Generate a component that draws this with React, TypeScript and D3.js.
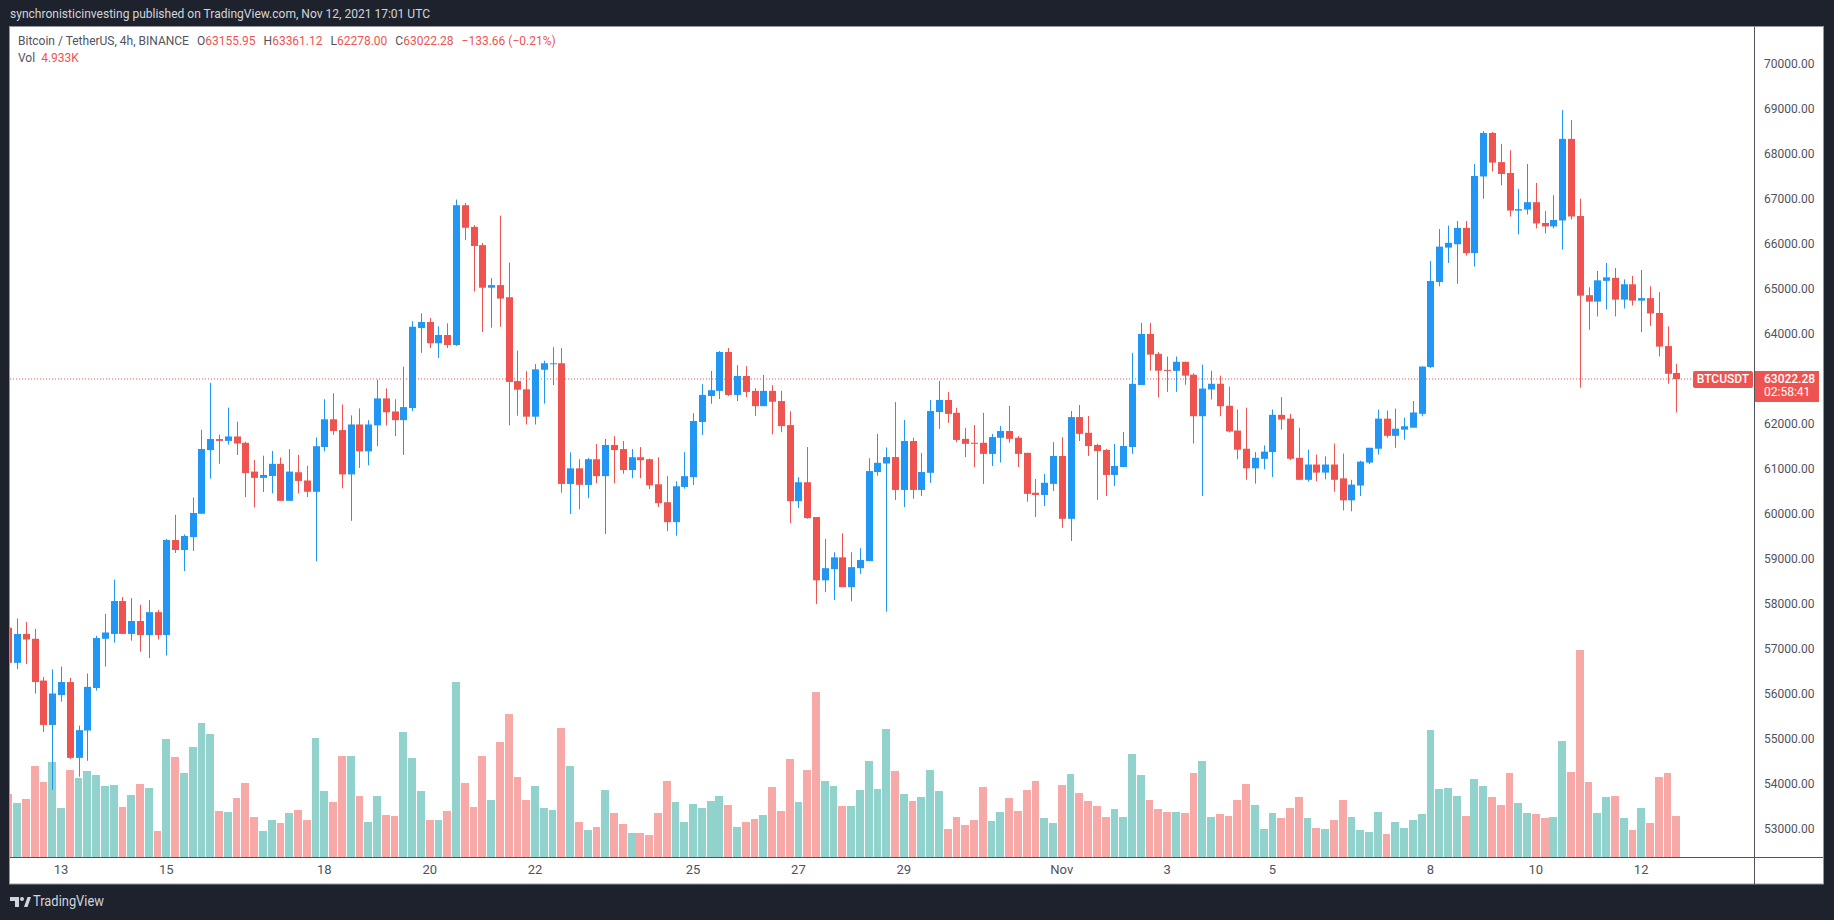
import * as d3 from "d3";
import React from "react";

// BTCUSDT 4h candles (Binance), Oct 12 2021 00:00 UTC -> Nov 12 2021 16:00 UTC
const firstCandle = new Date(Date.UTC(2021, 9, 12, 0));

const opens = [
  57496, 56715, 57357, 57250, 56321, 55335, 56000, 56288, 54603, 55211, 56156, 57250, 57357, 58088, 57357, 57644,
  57332, 57841, 57332, 59444, 59222, 59510, 60028, 61441, 61688, 61647, 61745, 61605, 60965, 60825, 60866, 61137,
  60315, 60950, 60767, 60516, 61510, 62127, 61887, 60902, 62012, 61414, 61993, 62591, 62301, 62108, 62378, 64154,
  64289, 63816, 64000, 63778, 66884, 66402, 65997, 65051, 65109, 64839, 62976, 62793, 62185, 63227, 63353, 63372,
  60690, 61037, 60668, 61239, 60863, 61555, 61465, 60999, 61284, 61239, 60683, 60284, 59841, 60623, 60841, 62066,
  62645, 62758, 63622, 62668, 63089, 62758, 62419, 62758, 62532, 61998, 60307, 60728, 59954, 58548, 58796, 59059,
  58397, 58818, 58976, 60954, 61144, 61287, 60557, 61644, 60557, 60938, 62287, 62556, 62271, 61692, 61605, 61605,
  61358, 61716, 61866, 61716, 61382, 60494, 60446, 60692, 61311, 59915, 62176, 61827, 61557, 61446, 60890, 61065,
  61509, 62890, 64024, 63580, 63224, 63203, 63405, 63118, 62195, 62789, 62916, 62428, 61876, 61473, 61037, 61249,
  61398, 62226, 62141, 61271, 60782, 61122, 60942, 61122, 60814, 60326, 60655, 61165, 61473, 62141, 61759, 61897,
  61940, 62248, 63288, 65178, 65942, 66017, 66380, 65819, 67523, 68490, 67842, 67600, 66765, 66787, 66951, 66490,
  66413, 66545, 68358, 66644, 64885, 64742, 65204, 65270, 64786, 65127, 64764, 64819, 64490, 63754, 63155.95,
];
const highs = [
  57550, 57701, 57619, 57471, 56403, 56567, 56633, 56378, 55318, 56477, 57315, 57800, 58565, 58178, 58153, 58006,
  58112, 57891, 59469, 60003, 59567, 60390, 61894, 62937, 61786, 62387, 62074, 61630, 61220, 61318, 61425, 61277,
  61466, 61336, 61095, 61722, 62571, 62707, 62456, 62214, 62369, 62108, 63005, 62813, 62571, 63295, 64308, 64482,
  64376, 64192, 64260, 67010, 66933, 66441, 66045, 65264, 66653, 65611, 63652, 63198, 63353, 63430, 63729, 63710,
  61394, 61240, 61269, 61577, 61690, 61750, 61645, 61465, 61510, 61254, 61284, 60863, 60750, 61397, 62262, 62908,
  63201, 63645, 63713, 63329, 63307, 62818, 63111, 62886, 62758, 62307, 60841, 61510, 59954, 59465, 59172, 59593,
  59172, 59262, 61262, 61803, 61501, 62509, 62112, 61716, 61382, 62556, 62977, 62731, 62382, 61938, 62001, 62271,
  61803, 61977, 62422, 61755, 61382, 60803, 60914, 61620, 61731, 62310, 62445, 62199, 61581, 61469, 61581, 61843,
  63604, 64270, 64270, 63620, 63522, 63522, 63405, 63150, 63341, 63203, 63097, 62853, 62343, 62386, 61398, 61547,
  62343, 62619, 62248, 61940, 61451, 61345, 61303, 61589, 61366, 60782, 61207, 61494, 62343, 62322, 62364, 62163,
  62534, 63299, 65645, 66356, 66431, 66534, 66534, 67798, 68534, 68512, 68248, 68105, 67248, 67798, 67380, 66754,
  67105, 68996, 68776, 67028, 65061, 65424, 65600, 65490, 65237, 65314, 65446, 65083, 64951, 64193, 63361.12,
];
const lows = [
  56680, 56576, 56691, 56033, 55178, 53896, 55852, 54578, 54184, 54537, 56099, 56633, 57168, 57357, 57209, 56962,
  56822, 57233, 56880, 59156, 58754, 59198, 60028, 60808, 61137, 61565, 61334, 60398, 60168, 60513, 60480, 60315,
  60315, 60478, 60400, 58972, 61414, 61780, 60593, 59870, 61047, 61105, 61529, 61993, 61751, 61336, 62311, 63604,
  63710, 63488, 63710, 63758, 66113, 64966, 64067, 64164, 64183, 61992, 62205, 62012, 62012, 62475, 62890, 60497,
  60024, 60130, 60375, 60705, 59578, 60705, 60916, 60818, 60818, 60578, 60179, 59638, 59540, 60585, 60668, 61780,
  62472, 62577, 62645, 62532, 62622, 62202, 62419, 61795, 61840, 59818, 60156, 59916, 58021, 58285, 58112, 58397,
  58082, 58691, 58976, 60874, 57852, 60335, 60176, 60359, 60422, 60716, 61914, 62049, 61620, 61287, 61065, 60692,
  61089, 61168, 61604, 61065, 60295, 59954, 60200, 60533, 59716, 59423, 61644, 61311, 60335, 60422, 60644, 61065,
  61358, 62890, 63207, 62612, 62736, 62736, 62895, 61589, 60421, 62566, 62195, 61834, 61239, 60782, 60698, 61016,
  60846, 61897, 61218, 60772, 60740, 60751, 60793, 60517, 60103, 60082, 60421, 61133, 61345, 61717, 61494, 61674,
  61940, 62195, 63267, 65082, 65603, 65138, 65765, 65523, 67028, 67633, 67325, 66633, 66237, 66677, 66369, 66259,
  66369, 65896, 66567, 62830, 64116, 64413, 64567, 64413, 64589, 64655, 64061, 64204, 63523, 62918, 62278.0,
];
const closes = [
  56715, 57357, 57233, 56288, 55335, 56033, 56288, 54603, 55219, 56181, 57266, 57389, 58088, 57357, 57644, 57332,
  57841, 57332, 59444, 59222, 59534, 60044, 61466, 61688, 61647, 61745, 61589, 60932, 60825, 60890, 61137, 60315,
  60965, 60757, 60516, 61529, 62127, 61867, 60902, 62012, 61414, 62012, 62591, 62282, 62108, 62398, 64183, 64289,
  63816, 64000, 63778, 66884, 66383, 65978, 65051, 65109, 64810, 62957, 62784, 62185, 63237, 63372, 63372, 60690,
  61037, 60671, 61239, 60863, 61555, 61442, 60999, 61284, 61217, 60660, 60262, 59841, 60638, 60863, 62089, 62668,
  62773, 63622, 62668, 63089, 62735, 62419, 62758, 62517, 61976, 60307, 60728, 59931, 58548, 58818, 59059, 58397,
  58841, 58999, 60976, 61160, 61287, 60557, 61644, 60557, 60954, 62310, 62556, 62247, 61668, 61581, 61581, 61358,
  61731, 61866, 61692, 61358, 60470, 60446, 60716, 61311, 59915, 62176, 61803, 61533, 61422, 60890, 61089, 61533,
  62914, 64024, 63564, 63207, 63203, 63405, 63097, 62195, 62810, 62916, 62417, 61855, 61451, 61037, 61271, 61409,
  62226, 62120, 61250, 60782, 61122, 60942, 61122, 60782, 60326, 60676, 61186, 61494, 62141, 61759, 61918, 61972,
  62279, 63299, 65199, 65964, 66048, 66380, 65819, 67534, 68490, 67831, 67578, 66765, 66798, 66951, 66479, 66413,
  66556, 68358, 66633, 64874, 64742, 65215, 65281, 64786, 65127, 64764, 64819, 64479, 63742, 63138, 63022.28,
];
// volume, thousands of BTC
const volumes = [
  7.6, 6.5, 7.0, 11.0, 9.0, 11.4, 5.9, 10.5, 9.5, 10.4, 9.9, 8.5, 8.7, 6.0, 7.5, 8.8,
  8.3, 3.1, 14.2, 12.0, 10.1, 13.2, 16.1, 14.8, 5.5, 5.4, 7.1, 8.9, 4.8, 3.1, 4.5, 4.1,
  5.3, 5.7, 4.5, 14.3, 8.0, 6.6, 12.1, 12.2, 7.4, 4.2, 7.3, 5.1, 4.9, 15.0, 11.9, 8.0,
  4.4, 4.4, 5.5, 21.0, 8.9, 6.0, 12.2, 6.9, 13.8, 17.2, 9.6, 6.9, 8.5, 5.9, 5.7, 15.5,
  11.0, 4.2, 3.3, 3.6, 8.1, 5.3, 4.0, 2.9, 2.9, 2.7, 5.3, 9.2, 6.6, 4.2, 6.4, 5.9,
  6.7, 7.4, 6.2, 3.6, 4.2, 4.6, 5.0, 8.4, 5.5, 11.8, 6.6, 10.5, 19.8, 9.1, 8.6, 6.1,
  6.1, 8.1, 11.5, 8.2, 15.4, 10.4, 7.6, 6.7, 7.2, 10.5, 7.9, 3.4, 4.8, 3.9, 4.5, 8.4,
  4.3, 5.4, 7.1, 5.5, 8.1, 9.1, 4.7, 4.1, 8.7, 10.0, 7.7, 6.7, 6.1, 4.8, 5.8, 4.8,
  12.4, 9.9, 6.9, 5.8, 5.4, 5.4, 5.3, 10.1, 11.6, 4.8, 5.2, 4.9, 6.8, 8.8, 6.3, 3.4,
  5.3, 4.7, 5.9, 7.2, 4.7, 3.5, 3.4, 4.4, 6.8, 4.8, 3.2, 3.0, 5.4, 2.8, 4.2, 3.5,
  4.4, 5.2, 15.3, 8.2, 8.3, 7.3, 4.9, 9.4, 8.6, 7.2, 6.3, 10.1, 6.5, 5.3, 5.2, 4.7,
  4.8, 14.0, 10.2, 24.9, 9.0, 5.3, 7.2, 7.3, 4.7, 3.2, 5.9, 4.1, 9.6, 10.1, 4.933,
];

const timeTickDates = [
  "2021-10-13", "2021-10-15", "2021-10-18", "2021-10-20", "2021-10-22", "2021-10-25", "2021-10-27",
  "2021-10-29", "2021-11-01", "2021-11-03", "2021-11-05", "2021-11-08", "2021-11-10", "2021-11-12",
];
const timeTickLabels = ["13", "15", "18", "20", "22", "25", "27", "29", "Nov", "3", "5", "8", "10", "12"];
const priceTicks = d3.range(53000, 70001, 1000);

const header = "synchronisticinvesting published on TradingView.com, Nov 12, 2021 17:01 UTC";
const lastPrice = 63022.28;

const UP = "#2196f3";
const DOWN = "#ef5350";
const VOL_UP = "#92d2cc";
const VOL_DOWN = "#f7a9a7";
const AXIS_TEXT = "#50535e";
const FONT = "Roboto, 'Liberation Sans', sans-serif";

export default function App() {
  const width = 1834;
  const height = 920;
  // chart frame
  const frame = { left: 10, top: 27, right: 1823, bottom: 884 };
  const pane = { left: 10, top: 27, right: 1754, bottom: 857 };

  const lastCandle = d3.utcHour.offset(firstCandle, 4 * (closes.length - 1));
  const x = d3.scaleUtc().domain([firstCandle, lastCandle]).range([8.3, 1676.3]);
  const y = d3.scaleLinear().domain([53000, 70000]).range([830, 65]);
  const v = d3.scaleLinear().domain([0, 25]).range([pane.bottom, pane.bottom - 25 * 8.31]);

  const candles = closes.map((c, i) => ({
    t: d3.utcHour.offset(firstCandle, 4 * i),
    o: opens[i],
    h: highs[i],
    l: lows[i],
    c,
    vol: volumes[i],
  }));

  const yLast = y(lastPrice);

  return (
    <div style={{ position: "absolute", left: 0, top: 0, width, height }}>
      <svg width={width} height={height} style={{ display: "block" }} fontFamily={FONT}>
        <defs>
          <clipPath id="pane-clip">
            <rect x={pane.left} y={pane.top} width={pane.right - pane.left} height={pane.bottom - pane.top} />
          </clipPath>
        </defs>
        <rect width={width} height={height} fill="#1e222d" />

        {/* header */}
        <text x={10} y={15} dominantBaseline="middle" fontSize={13} fill="#d1d4dc" textLength={420} lengthAdjust="spacingAndGlyphs">
          {header}
        </text>

        {/* chart area */}
        <rect
          x={frame.left - 0.5}
          y={frame.top - 0.5}
          width={frame.right - frame.left + 1}
          height={frame.bottom - frame.top + 0.5}
          fill="#ffffff"
          stroke="#9598a1"
        />

        <g clipPath="url(#pane-clip)">
          {/* volume */}
          {candles.map((d, i) => (
            <rect
              key={"v" + i}
              x={x(d.t) - 3.9}
              y={v(d.vol)}
              width={7.8}
              height={pane.bottom - v(d.vol)}
              fill={d.c >= d.o ? VOL_UP : VOL_DOWN}
              shapeRendering="crispEdges"
            />
          ))}

          {/* last price line */}
          <line x1={pane.left} x2={1693} y1={yLast} y2={yLast} stroke={DOWN} strokeDasharray="1 2" />

          {/* candles */}
          {candles.map((d, i) => {
            const cx = Math.round(x(d.t));
            const color = d.c >= d.o ? UP : DOWN;
            const top = y(Math.max(d.o, d.c));
            const bot = y(Math.min(d.o, d.c));
            return (
              <g key={"c" + i}>
                <rect x={cx} y={y(d.h)} width={1} height={y(d.l) - y(d.h)} fill={color} />
                <rect x={cx - 3} y={top} width={7} height={Math.max(1, bot - top)} fill={color} />
              </g>
            );
          })}
        </g>

        {/* axes lines */}
        <line x1={pane.right + 0.5} x2={pane.right + 0.5} y1={frame.top} y2={frame.bottom} stroke={AXIS_TEXT} />
        <line x1={frame.left} x2={frame.right} y1={pane.bottom + 0.5} y2={pane.bottom + 0.5} stroke={AXIS_TEXT} />

        {/* price axis */}
        {priceTicks.map((p) => (
          <text key={p} x={1764} y={y(p)} dominantBaseline="middle" fontSize={12} fill={AXIS_TEXT}>
            {d3.format(".2f")(p)}
          </text>
        ))}

        {/* time axis */}
        {timeTickDates.map((s, i) => (
          <text
            key={s}
            x={x(d3.utcParse("%Y-%m-%d")(s) as Date)}
            y={871}
            textAnchor="middle"
            dominantBaseline="middle"
            fontSize={13}
            fill={AXIS_TEXT}
          >
            {timeTickLabels[i]}
          </text>
        ))}

        {/* symbol + price labels */}
        <rect x={1693} y={yLast - 8} width={60} height={17} rx={2} fill={DOWN} />
        <text x={1723} y={yLast + 0.5} textAnchor="middle" dominantBaseline="middle" fontSize={12} fontWeight={500} fill="#ffffff">
          BTCUSDT
        </text>
        <rect x={pane.right + 1} y={yLast - 8} width={64} height={31} fill={DOWN} />
        <text x={1764} y={yLast + 0.5} dominantBaseline="middle" fontSize={12} fontWeight={500} fill="#ffffff">
          {d3.format(".2f")(lastPrice)}
        </text>
        <text x={1764} y={yLast + 14} dominantBaseline="middle" fontSize={12} fill="#ffffff">
          02:58:41
        </text>

        {/* legend */}
        <text x={18} y={42} fontSize={12} dominantBaseline="middle" fill={AXIS_TEXT}>
          <tspan>Bitcoin / TetherUS, 4h, BINANCE</tspan>
          <tspan dx={8}>O</tspan>
          <tspan fill={DOWN}>63155.95</tspan>
          <tspan dx={8}>H</tspan>
          <tspan fill={DOWN}>63361.12</tspan>
          <tspan dx={8}>L</tspan>
          <tspan fill={DOWN}>62278.00</tspan>
          <tspan dx={8}>C</tspan>
          <tspan fill={DOWN}>63022.28</tspan>
          <tspan dx={8} fill={DOWN}>−133.66 (−0.21%)</tspan>
        </text>
        <text x={18} y={59} fontSize={12} dominantBaseline="middle" fill={AXIS_TEXT}>
          <tspan>Vol</tspan>
          <tspan dx={6} fill={DOWN}>4.933K</tspan>
        </text>

        {/* TradingView mark */}
        <g fill="#d1d4dc">
          <rect x={10} y={897} width={9} height={4} />
          <rect x={15} y={897} width={4} height={10} />
          <circle cx={22} cy={899} r={2} />
          <path d="M24 907 L27.5 897 L31 897 L27.5 907 Z" />
          <text x={33} y={902} dominantBaseline="middle" fontSize={15} textLength={71} lengthAdjust="spacingAndGlyphs">
            TradingView
          </text>
        </g>
      </svg>
    </div>
  );
}
